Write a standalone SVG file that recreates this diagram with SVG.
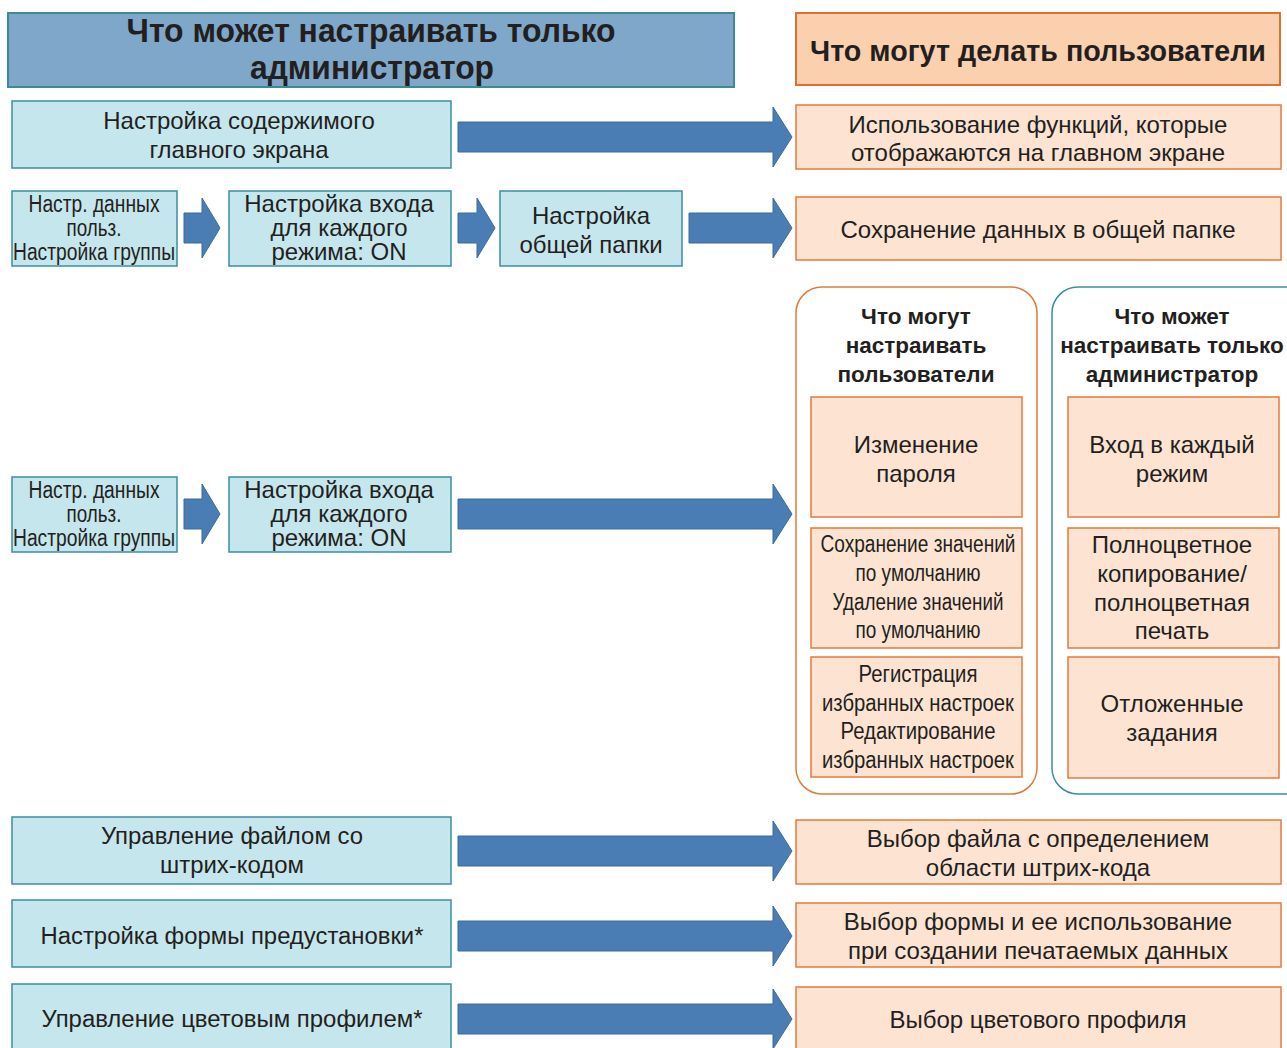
<svg xmlns="http://www.w3.org/2000/svg" width="1287" height="1048" viewBox="0 0 1287 1048">
<style>
.bl{fill:#c6e6ee;stroke:#3b8ea0;stroke-width:1.5}
.pk{fill:#fde4d2;stroke:#e67a3c;stroke-width:1.5}
.ar{fill:#4a7db3;stroke:#3c6b9c;stroke-width:1}
text{font-family:"Liberation Sans",Arial,sans-serif;fill:#231f20;text-anchor:middle}
.t{font-size:24px}
.c{font-size:23px}
.b{font-size:22.5px;font-weight:bold}
.h{font-size:33px;font-weight:bold}
</style>
<rect width="1287" height="1048" fill="#fff"/>
<g id="hdr-admin"><rect x="8" y="13" width="726" height="74" fill="#7fa7ca" stroke="#3a8a9a" stroke-width="2"/>
<text class="h" x="371" y="42" textLength="489" lengthAdjust="spacingAndGlyphs">Что может настраивать только</text>
<text class="h" x="372" y="79" textLength="244" lengthAdjust="spacingAndGlyphs">администратор</text></g>
<g id="hdr-users"><rect x="796" y="13" width="484" height="72" fill="#fbd0ae" stroke="#e07030" stroke-width="2"/>
<text class="h" x="1038" y="61" style="font-size:29px" textLength="456" lengthAdjust="spacingAndGlyphs">Что могут делать пользователи</text></g>

<g id="connectors">
<path class="ar" d="M458,122H773V107L792,137L773,167V152H458Z"/>
<path class="ar" d="M184,213H202V198L220,228L202,258V243H184Z"/>
<path class="ar" d="M458,213H477V198L495,228L477,258V243H458Z"/>
<path class="ar" d="M689,213H773V198L792,228L773,258V243H689Z"/>
<path class="ar" d="M184,499H202V484L220,514L202,544V529H184Z"/>
<path class="ar" d="M458,499H773V484L792,514L773,544V529H458Z"/>
<path class="ar" d="M458,836H773V821L792,851L773,881V866H458Z"/>
<path class="ar" d="M458,921H773V906L792,936L773,966V951H458Z"/>
<path class="ar" d="M458,1004H773V989L792,1019L773,1049V1034H458Z"/>
</g>

<g id="n-home-admin"><rect class="bl" x="12" y="101" width="439" height="67"/>
<text class="t" x="239" y="129">Настройка содержимого</text><text class="t" x="239" y="158">главного экрана</text></g>
<g id="n-home-user"><rect class="pk" x="796" y="105" width="485" height="64"/>
<text class="t" x="1038" y="133">Использование функций, которые</text><text class="t" x="1038" y="161">отображаются на главном экране</text></g>

<g id="n-user-data-1"><rect class="bl" x="12" y="191" width="165" height="75"/>
<text class="c" x="94" y="212" textLength="131" lengthAdjust="spacingAndGlyphs">Настр. данных</text>
<text class="c" x="94" y="236" textLength="55" lengthAdjust="spacingAndGlyphs">польз.</text>
<text class="c" x="94" y="260" textLength="162" lengthAdjust="spacingAndGlyphs">Настройка группы</text></g>
<g id="n-login-1"><rect class="bl" x="229" y="191" width="222" height="75"/>
<text class="t" x="339" y="212">Настройка входа</text><text class="t" x="339" y="236">для каждого</text><text class="t" x="339" y="260">режима: ON</text></g>
<g id="n-shared-admin"><rect class="bl" x="500" y="191" width="182" height="75"/>
<text class="t" x="591" y="224">Настройка</text><text class="t" x="591" y="253">общей папки</text></g>
<g id="n-shared-user"><rect class="pk" x="796" y="197" width="485" height="63"/>
<text class="t" x="1038" y="238">Сохранение данных в общей папке</text></g>

<g id="n-user-data-2"><rect class="bl" x="12" y="477" width="165" height="75"/>
<text class="c" x="94" y="498" textLength="131" lengthAdjust="spacingAndGlyphs">Настр. данных</text>
<text class="c" x="94" y="522" textLength="55" lengthAdjust="spacingAndGlyphs">польз.</text>
<text class="c" x="94" y="546" textLength="162" lengthAdjust="spacingAndGlyphs">Настройка группы</text></g>
<g id="n-login-2"><rect class="bl" x="229" y="477" width="222" height="75"/>
<text class="t" x="339" y="498">Настройка входа</text><text class="t" x="339" y="522">для каждого</text><text class="t" x="339" y="546">режима: ON</text></g>

<g id="grp-users"><rect x="796" y="287" width="241" height="507" rx="26" fill="#fff" stroke="#e07a3a" stroke-width="1.5"/>
<text class="b" x="916" y="324">Что могут</text><text class="b" x="916" y="353">настраивать</text><text class="b" x="916" y="382">пользователи</text></g>
<g id="n-password"><rect class="pk" x="811" y="397" width="211" height="120"/>
<text class="t" x="916" y="453">Изменение</text><text class="t" x="916" y="482">пароля</text></g>
<g id="n-defaults"><rect class="pk" x="811" y="528" width="211" height="120"/>
<text class="c" x="918" y="552" textLength="195" lengthAdjust="spacingAndGlyphs">Сохранение значений</text>
<text class="c" x="918" y="581" textLength="125" lengthAdjust="spacingAndGlyphs">по умолчанию</text>
<text class="c" x="918" y="610" textLength="171" lengthAdjust="spacingAndGlyphs">Удаление значений</text>
<text class="c" x="918" y="638" textLength="125" lengthAdjust="spacingAndGlyphs">по умолчанию</text></g>
<g id="n-favorites"><rect class="pk" x="811" y="657" width="211" height="120"/>
<text class="c" x="918" y="682" textLength="119" lengthAdjust="spacingAndGlyphs">Регистрация</text>
<text class="c" x="918" y="711" textLength="192" lengthAdjust="spacingAndGlyphs">избранных настроек</text>
<text class="c" x="918" y="739" textLength="155" lengthAdjust="spacingAndGlyphs">Редактирование</text>
<text class="c" x="918" y="768" textLength="192" lengthAdjust="spacingAndGlyphs">избранных настроек</text></g>

<g id="grp-admin"><rect x="1052" y="287" width="260" height="507" rx="26" fill="#fff" stroke="#3b8ea0" stroke-width="1.5"/>
<text class="b" x="1172" y="324">Что может</text><text class="b" x="1172" y="353">настраивать только</text><text class="b" x="1172" y="382">администратор</text></g>
<g id="n-mode-login"><rect class="pk" x="1068" y="397" width="211" height="120"/>
<text class="t" x="1172" y="453">Вход в каждый</text><text class="t" x="1172" y="482">режим</text></g>
<g id="n-fullcolor"><rect class="pk" x="1068" y="528" width="211" height="120"/>
<text class="t" x="1172" y="553">Полноцветное</text><text class="t" x="1172" y="582">копирование/</text><text class="t" x="1172" y="611">полноцветная</text><text class="t" x="1172" y="639">печать</text></g>
<g id="n-delayed"><rect class="pk" x="1068" y="657" width="211" height="121"/>
<text class="t" x="1172" y="712">Отложенные</text><text class="t" x="1172" y="741">задания</text></g>

<g id="n-barcode-admin"><rect class="bl" x="12" y="817" width="439" height="67"/>
<text class="c" x="232" y="844" textLength="262" lengthAdjust="spacingAndGlyphs">Управление файлом со</text>
<text class="c" x="232" y="873" textLength="144" lengthAdjust="spacingAndGlyphs">штрих-кодом</text></g>
<g id="n-barcode-user"><rect class="pk" x="796" y="820" width="485" height="64"/>
<text class="t" x="1038" y="847">Выбор файла с определением</text><text class="t" x="1038" y="876">области штрих-кода</text></g>

<g id="n-form-admin"><rect class="bl" x="12" y="900" width="439" height="67"/>
<text class="c" x="232" y="944" textLength="383" lengthAdjust="spacingAndGlyphs">Настройка формы предустановки*</text></g>
<g id="n-form-user"><rect class="pk" x="796" y="903" width="485" height="64"/>
<text class="t" x="1038" y="930">Выбор формы и ее использование</text><text class="t" x="1038" y="959">при создании печатаемых данных</text></g>

<g id="n-profile-admin"><rect class="bl" x="12" y="984" width="439" height="80"/>
<text class="c" x="232" y="1027" textLength="381" lengthAdjust="spacingAndGlyphs">Управление цветовым профилем*</text></g>
<g id="n-profile-user"><rect class="pk" x="796" y="987" width="485" height="80"/>
<text class="t" x="1038" y="1028">Выбор цветового профиля</text></g>
</svg>
